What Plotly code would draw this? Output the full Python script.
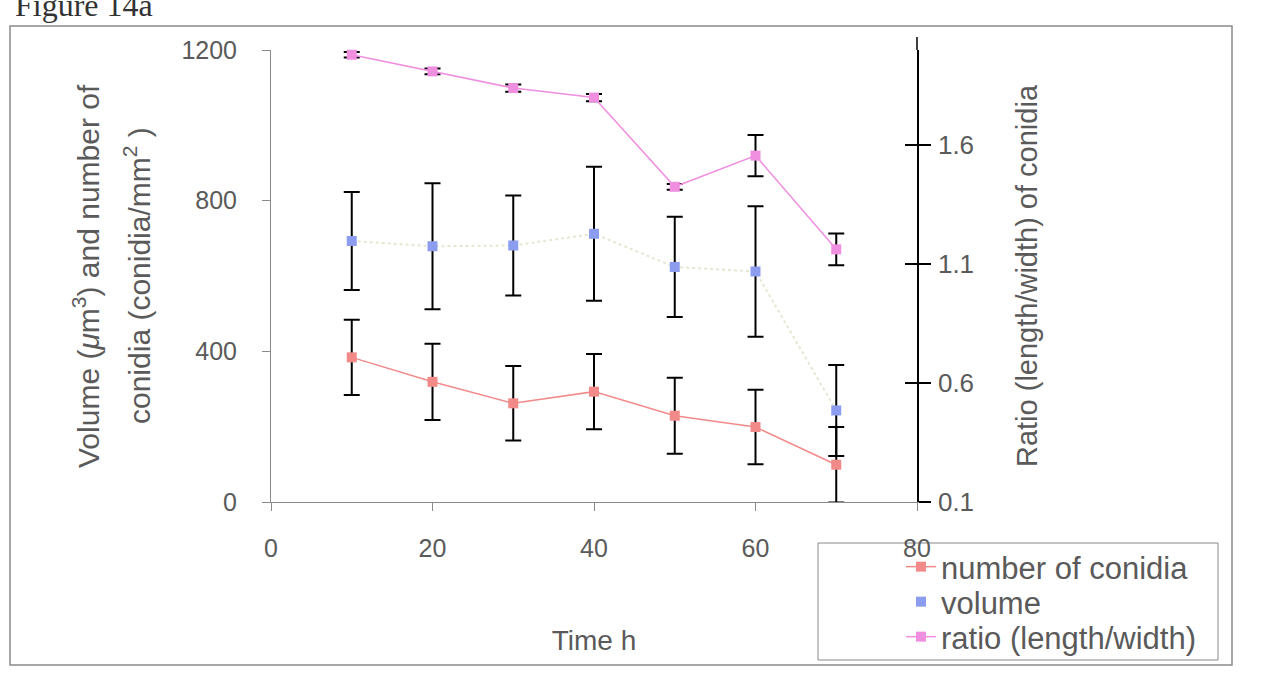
import plotly.graph_objects as go

# ---- data ----
time_h = [10, 20, 30, 40, 50, 60, 70]
conidia = [384, 319, 262, 293, 229, 199, 99]
conidia_err = [100, 101, 99, 100, 101, 99, 100]
volume = [693, 679, 681, 712, 624, 612, 243]
volume_err = [130, 167, 133, 178, 133, 173, 121]
ratio = [1.98, 1.91, 1.84, 1.80, 1.425, 1.556, 1.162]
ratio_err = [0.012, 0.012, 0.015, 0.015, 0.012, 0.087, 0.067]

x_ticks = [0, 20, 40, 60, 80]
left_ticks = [0, 400, 800, 1200]
right_ticks = [0.1, 0.6, 1.1, 1.6]

RED = "#f28a8a"
BLUE = "#8c9cee"
PINK = "#f08ee0"
TXT = "#5a5a5a"
FONT = "Liberation Sans, Arial, sans-serif"

# plot-area geometry (pixels) used to place paper-referenced decorations
L, R, T, B = 271, 917, 50, 502
PW, PH = R - L, B - T


def px(xp):
    return (xp - L) / PW


def py(yp):
    return (B - yp) / PH


err_style = dict(type="data", color="black", thickness=2, width=8)

fig = go.Figure()

fig.add_trace(go.Scatter(
    x=time_h, y=conidia, name="number of conidia", mode="lines+markers",
    line=dict(color=RED, width=1.5),
    marker=dict(symbol="square", size=10, color=RED),
    error_y=dict(array=conidia_err, **err_style),
    cliponaxis=False, legend="legend",
))

# faint dotted connector of the volume series (not shown in legend)
fig.add_trace(go.Scatter(
    x=time_h, y=volume, mode="lines", showlegend=False, hoverinfo="skip",
    line=dict(color="#e6e6d2", width=2, dash="dot"),
))
fig.add_trace(go.Scatter(
    x=time_h, y=volume, name="volume", mode="markers",
    marker=dict(symbol="square", size=10, color=BLUE),
    error_y=dict(array=volume_err, **err_style),
    cliponaxis=False, legend="legend2",
))

fig.add_trace(go.Scatter(
    x=time_h, y=ratio, name="ratio (length/width)", mode="lines+markers",
    yaxis="y2",
    line=dict(color=PINK, width=1.5),
    marker=dict(symbol="square", size=10, color=PINK),
    error_y=dict(array=ratio_err, **err_style),
    cliponaxis=False, legend="legend3",
))

# dummy trace to activate yaxis3 (inner half of the cross ticks on the right axis)
fig.add_trace(go.Scatter(x=[None], y=[None], yaxis="y3", showlegend=False,
                         hoverinfo="skip"))

leg_common = dict(
    x=px(901), xanchor="left", yanchor="middle",
    bgcolor="rgba(0,0,0,0)", borderwidth=0,
    font=dict(size=31, color=TXT, family=FONT),
)

fig.update_layout(
    width=1269, height=678,
    margin=dict(l=L, r=1269 - R, t=T, b=678 - B),
    paper_bgcolor="white", plot_bgcolor="white",
    font=dict(family=FONT, color=TXT, size=24),
    showlegend=True,
    legend=dict(y=py(567), **leg_common),
    legend2=dict(y=py(602), **leg_common),
    legend3=dict(y=py(637), **leg_common),
    xaxis=dict(
        range=[0, 80], tickvals=x_ticks, showgrid=False, zeroline=False,
        showline=True, linecolor="#8a8a8a", linewidth=1,
        ticks="outside", ticklen=8, tickcolor="#8a8a8a",
        tickfont=dict(size=25, color=TXT), ticklabelstandoff=16,
        title=dict(text="Time h", font=dict(size=28, color=TXT), standoff=69),
    ),
    yaxis=dict(
        range=[0, 1200], tickvals=left_ticks, showgrid=False, zeroline=False,
        showline=True, linecolor="#8a8a8a", linewidth=1,
        ticks="outside", ticklen=8, tickcolor="#8a8a8a",
        tickfont=dict(size=25, color=TXT), ticklabelstandoff=20,
    ),
    yaxis2=dict(
        overlaying="y", side="right", range=[0.1, 2.0], tickvals=right_ticks,
        showgrid=False, zeroline=False,
        showline=True, linecolor="black", linewidth=1.5,
        ticks="outside", ticklen=12, tickcolor="black", tickwidth=1.5,
        tickfont=dict(size=26, color=TXT), ticklabelstandoff=2,
        title=dict(text="Ratio (length/width) of conidia",
                   font=dict(size=29, color=TXT), standoff=44),
    ),
    yaxis3=dict(
        overlaying="y", side="right", range=[0.1, 2.0], tickvals=right_ticks,
        showgrid=False, zeroline=False, showline=False,
        ticks="inside", ticklen=12, tickcolor="black", tickwidth=1.5,
        showticklabels=False,
    ),
)

# left axis title (two lines, as in the original)
fig.add_annotation(
    xref="paper", yref="paper", x=px(86), y=0.5,
    text="Volume (<i>μ</i>m<sup>3</sup>) and number of",
    textangle=-90, showarrow=False, xanchor="center", yanchor="middle",
    font=dict(size=30, color=TXT, family=FONT),
)
fig.add_annotation(
    xref="paper", yref="paper", x=px(137), y=0.5,
    text="conidia (conidia/mm<sup>2</sup> )",
    textangle=-90, showarrow=False, xanchor="center", yanchor="middle",
    font=dict(size=30, color=TXT, family=FONT),
)

# "Figure 14a" caption at the top, partially cut off like the scan
fig.add_annotation(
    xref="paper", yref="paper", x=px(13), y=py(25),
    text="Figure 14a", showarrow=False, xanchor="left", yanchor="bottom",
    font=dict(size=32, color="#333333", family="Liberation Serif, Times New Roman, serif"),
)

# outer frame of the chart
fig.add_shape(
    type="rect", xref="paper", yref="paper",
    x0=px(10), x1=px(1232), y0=py(665), y1=py(26),
    line=dict(color="#8a8a8a", width=1.5), fillcolor="rgba(0,0,0,0)",
    layer="below",
)
# legend box
fig.add_shape(
    type="rect", xref="paper", yref="paper",
    x0=px(818), x1=px(1218), y0=py(660), y1=py(543),
    line=dict(color="#8a8a8a", width=1), fillcolor="white",
    layer="below",
)
# the right-hand axis line runs a little above the plot area in the original
fig.add_shape(
    type="line", xref="paper", yref="paper",
    x0=1, x1=1, y0=1, y1=py(37),
    line=dict(color="black", width=1.5),
)

fig.write_html(
    "out.html",
    config={"displayModeBar": False},
    post_script="document.body.style.margin='0px';",
)
